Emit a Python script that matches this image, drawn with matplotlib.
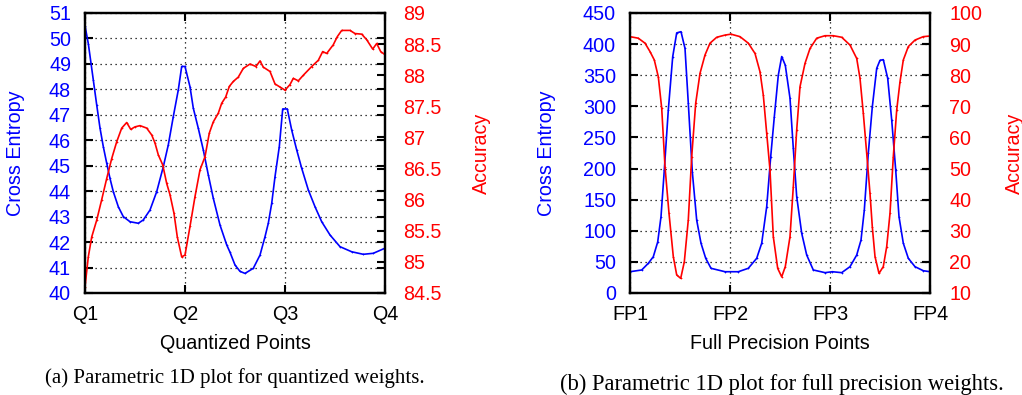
import matplotlib
matplotlib.use('Agg')
import matplotlib.pyplot as plt

plt.rcParams['font.family'] = ['Liberation Sans', 'DejaVu Sans']

# ---- (a) quantized points ----
q_ce_x = [0, 0.033, 0.083, 0.117, 0.15, 0.183, 0.217, 0.25, 0.283, 0.333, 0.383, 0.45,
          0.533, 0.583, 0.65, 0.717, 0.783, 0.833, 0.883, 0.933, 0.967, 1.0, 1.05, 1.083,
          1.133, 1.183, 1.233, 1.283, 1.35, 1.417, 1.45, 1.5, 1.55, 1.6, 1.683, 1.75, 1.8,
          1.833, 1.867, 1.9, 1.943, 1.977, 2.023, 2.067, 2.117, 2.167, 2.233, 2.3, 2.367,
          2.45, 2.55, 2.667, 2.783, 2.883, 3.0]
q_ce = [50.5, 49.8, 48.37, 47.39, 46.48, 45.75, 45.1, 44.5, 43.98, 43.39, 43.0, 42.8,
        42.74, 42.87, 43.26, 43.98, 44.96, 45.82, 46.93, 47.98, 48.9, 48.9, 48.1, 47.26,
        46.47, 45.62, 44.64, 43.72, 42.67, 41.89, 41.6, 41.1, 40.85, 40.77, 40.97, 41.49, 42.21,
        42.74, 43.52, 44.57, 45.75, 47.23, 47.23, 46.4, 45.62, 44.9, 44.05, 43.39, 42.8,
        42.28, 41.82, 41.62, 41.52, 41.56, 41.76]

q_acc_x = [0, 0.033, 0.067, 0.117, 0.167, 0.217, 0.267, 0.317, 0.367, 0.417, 0.457, 0.5,
           0.55, 0.617, 0.667, 0.7, 0.733, 0.777, 0.817, 0.85, 0.89, 0.923, 0.967, 1.0,
           1.05, 1.1, 1.15, 1.2, 1.243, 1.283, 1.333, 1.367, 1.407, 1.443, 1.483, 1.533,
           1.583, 1.65, 1.71, 1.75, 1.783, 1.85, 1.9, 1.95, 2.0, 2.05, 2.083, 2.133, 2.183,
           2.267, 2.333, 2.377, 2.417, 2.483, 2.523, 2.567, 2.65, 2.7, 2.767, 2.817, 2.877,
           2.917, 2.957, 3.0]
q_acc = [84.6, 85.08, 85.4, 85.67, 86.0, 86.34, 86.66, 86.93, 87.15, 87.24, 87.13, 87.17,
         87.19, 87.15, 87.04, 86.91, 86.72, 86.56, 86.26, 86.08, 85.78, 85.4, 85.08, 85.11,
         85.57, 86.05, 86.48, 86.69, 87.07, 87.25, 87.39, 87.55, 87.65, 87.82, 87.9, 87.97,
         88.11, 88.18, 88.14, 88.23, 88.13, 88.06, 87.86, 87.81, 87.76, 87.85, 87.95, 87.91, 88.0,
         88.14, 88.24, 88.38, 88.35, 88.49, 88.62, 88.72, 88.72, 88.67, 88.66, 88.57, 88.42,
         88.51, 88.38, 88.33]

# ---- (b) full precision points ----
fp_ce_x = [0, 0.117, 0.183, 0.233, 0.277, 0.31, 0.343, 0.383, 0.427, 0.467, 0.51, 0.55,
           0.583, 0.623, 0.667, 0.71, 0.757, 0.81, 0.95, 1.083, 1.183, 1.267, 1.317, 1.367,
           1.407, 1.443, 1.483, 1.517, 1.553, 1.6, 1.633, 1.667, 1.717, 1.767, 1.833, 1.95,
           2.023, 2.117, 2.2, 2.267, 2.31, 2.343, 2.383, 2.423, 2.467, 2.5, 2.533, 2.577,
           2.617, 2.657, 2.69, 2.733, 2.783, 2.85, 2.933, 3.0]
fp_ce = [34.2, 37, 47.7, 58.3, 82, 122.6, 197.7, 294, 379.7, 418, 420, 393,
         305, 195, 117, 80, 55.8, 39.7, 34.2, 34.2, 39.7, 55.8, 80, 138.7,
         219, 283, 350, 380, 366, 313, 232.5, 154.8, 96, 61, 37, 32.7,
         34.2, 32.7, 42.3, 61, 85, 133, 224.5, 299, 361, 374, 375, 345,
         278, 197.7, 122.6, 80, 55.8, 42.3, 35.8, 34.2]

fp_acc_x = [0, 0.083, 0.15, 0.2, 0.243, 0.283, 0.317, 0.35, 0.39, 0.433, 0.467, 0.507,
            0.543, 0.583, 0.617, 0.657, 0.7, 0.75, 0.8, 0.867, 0.95, 1.01, 1.1, 1.183,
            1.25, 1.3, 1.333, 1.367, 1.4, 1.433, 1.477, 1.517, 1.553, 1.6, 1.633, 1.667,
            1.7, 1.75, 1.8, 1.867, 1.95, 2.033, 2.117, 2.2, 2.267, 2.3, 2.333, 2.367, 2.4,
            2.423, 2.45, 2.49, 2.533, 2.567, 2.6, 2.633, 2.667, 2.7, 2.733, 2.783, 2.85,
            2.933, 3.0]
fp_acc = [92.4, 91.9, 90.3, 87.6, 84.9, 79.5, 69.4, 50.6, 35.6, 21.7, 15.8, 14.7,
          20, 33.5, 53.8, 71, 80.6, 86.5, 90.3, 92.2, 92.9, 93.2, 92.4, 90.3,
          87, 81.1, 73.6, 61.3, 49.5, 28.1, 17.9, 15.2, 18.5, 28.1, 44.2, 62.4,
          76.3, 83.8, 88.6, 91.9, 92.7, 92.7, 92.2, 89.7, 85.4, 79, 67.8, 54.9, 42,
          31.3, 21.7, 16.3, 18.5, 24.9, 35.6, 53.8, 68.8, 77.9, 84.9, 89.2, 91.3,
          92.4, 92.6]

q_labels = ['Q1', 'Q2', 'Q3', 'Q4']
fp_labels = ['FP1', 'FP2', 'FP3', 'FP4']
q_ce_ticks = list(range(40, 52))
q_acc_ticks = [84.5, 85, 85.5, 86, 86.5, 87, 87.5, 88, 88.5, 89]
q_acc_ticklabels = ['84.5', '85', '85.5', '86', '86.5', '87', '87.5', '88', '88.5', '89']
fp_ce_ticks = list(range(0, 451, 50))
fp_acc_ticks = list(range(10, 101, 10))

BLUE = '#0000ff'
RED = '#ff0000'
FS = 14.2

fig = plt.figure(figsize=(10.22, 3.95), dpi=100)


def panel(left, xl, ce_x, ce, acc_x, acc, ce_ticks, acc_ticks, acc_tl, xlabel,
          ce_lab_x, acc_lab_x, acc_pad):
    ax = fig.add_axes([left, 102 / 395, 300 / 1022, 280 / 395])
    ax2 = ax.twinx()
    ax.plot(ce_x, ce, color=BLUE, lw=1.2, marker='+', ms=2, mew=0.5)
    ax2.plot(acc_x, acc, color=RED, lw=1.2, marker='+', ms=2, mew=0.5)
    ax.set_xlim(0, 3)
    ax.set_ylim(ce_ticks[0], ce_ticks[-1])
    ax2.set_ylim(acc_ticks[0], acc_ticks[-1])
    ax.set_xticks([0, 1, 2, 3])
    ax.set_xticklabels(xl, fontsize=FS)
    ax.set_yticks(ce_ticks)
    ax.set_yticklabels([str(t) for t in ce_ticks], fontsize=FS, color=BLUE)
    ax2.set_yticks(acc_ticks)
    ax2.set_yticklabels(acc_tl, fontsize=FS, color=RED)
    ax.tick_params(axis='x', direction='in', length=6, width=1.5, top=True, pad=9)
    ax.tick_params(axis='y', direction='in', length=6, width=1.5, right=True, pad=10)
    ax2.tick_params(axis='y', direction='in', length=6, width=1.5, pad=acc_pad)
    ax.grid(True, linestyle=(0, (1, 3)), color='black', linewidth=0.9)
    for a in (ax, ax2):
        for s in a.spines.values():
            s.set_linewidth(1.6)
    ax.set_xlabel(xlabel, fontsize=FS)
    ax.xaxis.set_label_coords(0.5, -0.145)
    ax.set_ylabel('Cross Entropy', fontsize=FS, color=BLUE)
    ax.yaxis.set_label_coords(ce_lab_x, 0.5)
    ax2.set_ylabel('Accuracy', fontsize=FS, color=RED)
    ax2.yaxis.set_label_coords(acc_lab_x, 0.5)
    return ax, ax2


panel(85 / 1022, q_labels, q_ce_x, q_ce, q_acc_x, q_acc, q_ce_ticks, q_acc_ticks,
      q_acc_ticklabels, 'Quantized Points', -0.2, 1.29, 13)
panel(630 / 1022, fp_labels, fp_ce_x, fp_ce, fp_acc_x, fp_acc, fp_ce_ticks, fp_acc_ticks,
      [str(t) for t in fp_acc_ticks], 'Full Precision Points', -0.247, 1.25, 14)

fig.text(45 / 1022, 12 / 395, '(a) Parametric 1D plot for quantized weights.',
         family='Liberation Serif', fontsize=15, ha='left', va='baseline')
fig.text(560 / 1022, 5 / 395, '(b) Parametric 1D plot for full precision weights.',
         family='Liberation Serif', fontsize=16.3, ha='left', va='baseline')

fig.savefig('out.png', dpi=100)
